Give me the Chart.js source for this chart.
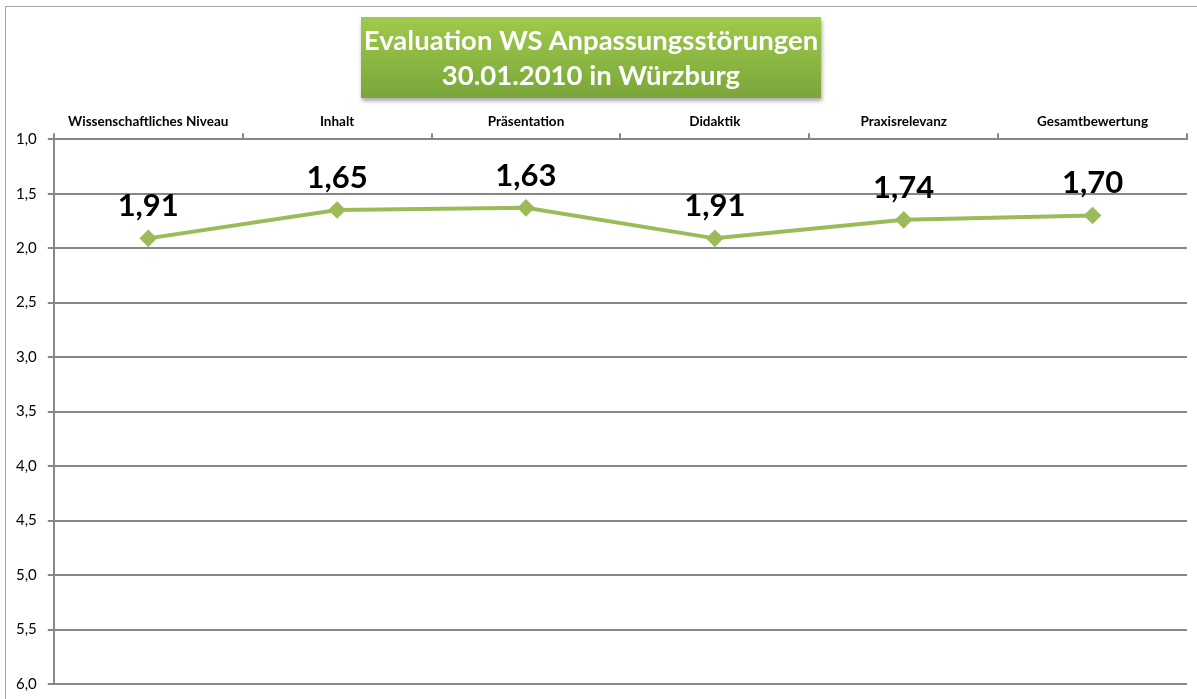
<!DOCTYPE html>
<html>
<head>
<meta charset="utf-8">
<script src="https://cdn.jsdelivr.net/npm/chart.js@4"></script>
<style>
  html, body { margin: 0; padding: 0; background: #fff; }
  #wrap { position: relative; width: 1197px; height: 699px; overflow: hidden; }
  #frame { position: absolute; left: 5px; top: 6px; width: 1200px; height: 700px; border: 1px solid #a6a6a6; box-sizing: border-box; }
  #title {
    position: absolute; left: 361px; top: 17px; width: 460px; height: 81px;
    background: linear-gradient(#9fca4c, #7aa63a);
    box-shadow: 1px 3px 4px rgba(0,0,0,0.35);
    color: #fff; font-family: Lato, "Open Sans", sans-serif; font-weight: bold;
    font-size: 27.5px; line-height: 35px; text-align: center; padding-top: 5px; box-sizing: border-box;
  }
  canvas { position: absolute; left: 0; top: 0; }
</style>
</head>
<body>
<div id="wrap">
  <div id="frame"></div>
  <canvas id="chart" width="1197" height="704"></canvas>
  <div id="title">Evaluation WS Anpassungsstörungen<br>30.01.2010 in Würzburg</div>
</div>
<script>
const categories = ['Wissenschaftliches Niveau', 'Inhalt', 'Präsentation', 'Didaktik', 'Praxisrelevanz', 'Gesamtbewertung'];
const scores = [1.91, 1.65, 1.63, 1.91, 1.74, 1.70];
const yTicks = [1.0, 1.5, 2.0, 2.5, 3.0, 3.5, 4.0, 4.5, 5.0, 5.5, 6.0];

const fmt = v => v.toFixed(2).replace('.', ',');

// value labels above each point
const valueLabels = {
  id: 'valueLabels',
  afterDatasetsDraw(chart){
    const ctx = chart.ctx;
    const meta = chart.getDatasetMeta(0);
    ctx.save();
    ctx.font = 'bold 31px Lato, "Open Sans", sans-serif';
    ctx.fillStyle = '#000';
    ctx.textAlign = 'center';
    ctx.textBaseline = 'alphabetic';
    meta.data.forEach((pt, i) => {
      ctx.fillText(fmt(scores[i]), pt.x, pt.y - 22);
    });
    ctx.restore();
  }
};

new Chart(document.getElementById('chart'), {
  type: 'line',
  data: {
    labels: categories,
    datasets: [{
      data: scores,
      borderColor: '#9bbb59',
      backgroundColor: '#9bbb59',
      borderWidth: 4,
      pointStyle: 'rectRot',
      pointRadius: 6,
      pointHoverRadius: 6,
      tension: 0
    }]
  },
  options: {
    responsive: false,
    animation: false,
    layout: { padding: { left: 5, right: 10, top: 111, bottom: 4 } },
    plugins: { legend: { display: false }, tooltip: { enabled: false }, title: { display: false } },
    scales: {
      x: {
        position: 'top',
        offset: true,
        grid: { offset: true, drawOnChartArea: false, color: '#878787', lineWidth: 2, tickLength: 6 },
        border: { color: '#878787', width: 2 },
        ticks: { color: '#000', font: { family: 'Lato, "Open Sans", sans-serif', size: 13.5, weight: 'bold' }, maxRotation: 0, padding: 3 }
      },
      y: {
        reverse: true,
        min: yTicks[0],
        max: yTicks[yTicks.length - 1],
        afterBuildTicks: axis => { axis.ticks = yTicks.map(v => ({ value: v })); },
        grid: { color: '#878787', lineWidth: 2, tickLength: 6 },
        border: { color: '#878787', width: 2 },
        ticks: {
          color: '#000',
          font: { family: 'Lato, "Open Sans", sans-serif', size: 15 },
          padding: 11,
          callback: v => Number(v).toFixed(1).replace('.', ',')
        }
      }
    }
  },
  plugins: [valueLabels]
});
</script>
</body>
</html>
